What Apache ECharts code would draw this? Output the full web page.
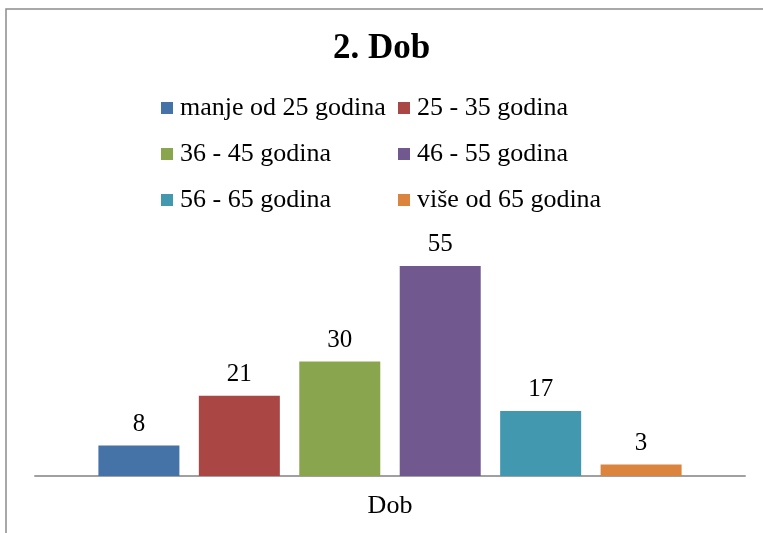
<!DOCTYPE html>
<html><head><meta charset="utf-8">
<script src="https://cdn.jsdelivr.net/npm/echarts@6/dist/echarts.min.js"></script>
<style>html,body{margin:0;padding:0;background:#fff}#c{width:763px;height:533px}</style>
</head><body><div id="c"></div>
<script>
const titleText = '2. Dob';
const categories = ['Dob'];
const seriesNames = ['manje od 25 godina','25 - 35 godina','36 - 45 godina','46 - 55 godina','56 - 65 godina','više od 65 godina'];
const values = [8, 21, 30, 55, 17, 3];
const colors = ['#4572A7','#AA4643','#89A54E','#71588F','#4198AF','#DB843D'];
const legendCol1 = [seriesNames[0], seriesNames[2], seriesNames[4]];
const legendCol2 = [seriesNames[1], seriesNames[3], seriesNames[5]];

const font = "'Liberation Serif','Times New Roman',serif";
const chart = echarts.init(document.getElementById('c'), null, {renderer:'canvas'});
const legendBase = {
  orient:'vertical', itemWidth:12, itemHeight:12, itemGap:18, icon:'rect',
  textStyle:{fontFamily:font, fontSize:26, color:'#000', lineHeight:28, padding:[0,0,0,2]}, top:94, padding:0, selectedMode:false
};
chart.setOption({
  animation:false,
  title:{text:titleText, left:'center', top:31, padding:0, textStyle:{fontFamily:font, fontSize:35, fontWeight:'bold', color:'#000'}},
  legend:[
    Object.assign({}, legendBase, {left:161, data:legendCol1}),
    Object.assign({}, legendBase, {left:398, data:legendCol2})
  ],
  graphic:[{type:'rect', shape:{x:6, y:9, width:900, height:700}, style:{fill:'none', stroke:'#8c8c8c', lineWidth:1.5}, silent:true}],
  grid:{left:35, right:18, top:247, bottom:57},
  xAxis:{type:'category', data:categories,
    axisLine:{lineStyle:{color:'#a0a0a0', width:2}}, axisTick:{show:false},
    axisLabel:{fontFamily:font, fontSize:26, color:'#000', margin:17}},
  yAxis:{type:'value', min:0, max:60, show:false, splitLine:{show:false}},
  series: seriesNames.map((n,i)=>({
    name:n, type:'bar', barWidth:81, barGap:'24%',
    itemStyle:{color:colors[i]},
    label:{show:true, position:'top', distance:9, fontFamily:font, fontSize:25, color:'#000'},
    data:[values[i]]
  }))
});
</script></body></html>
